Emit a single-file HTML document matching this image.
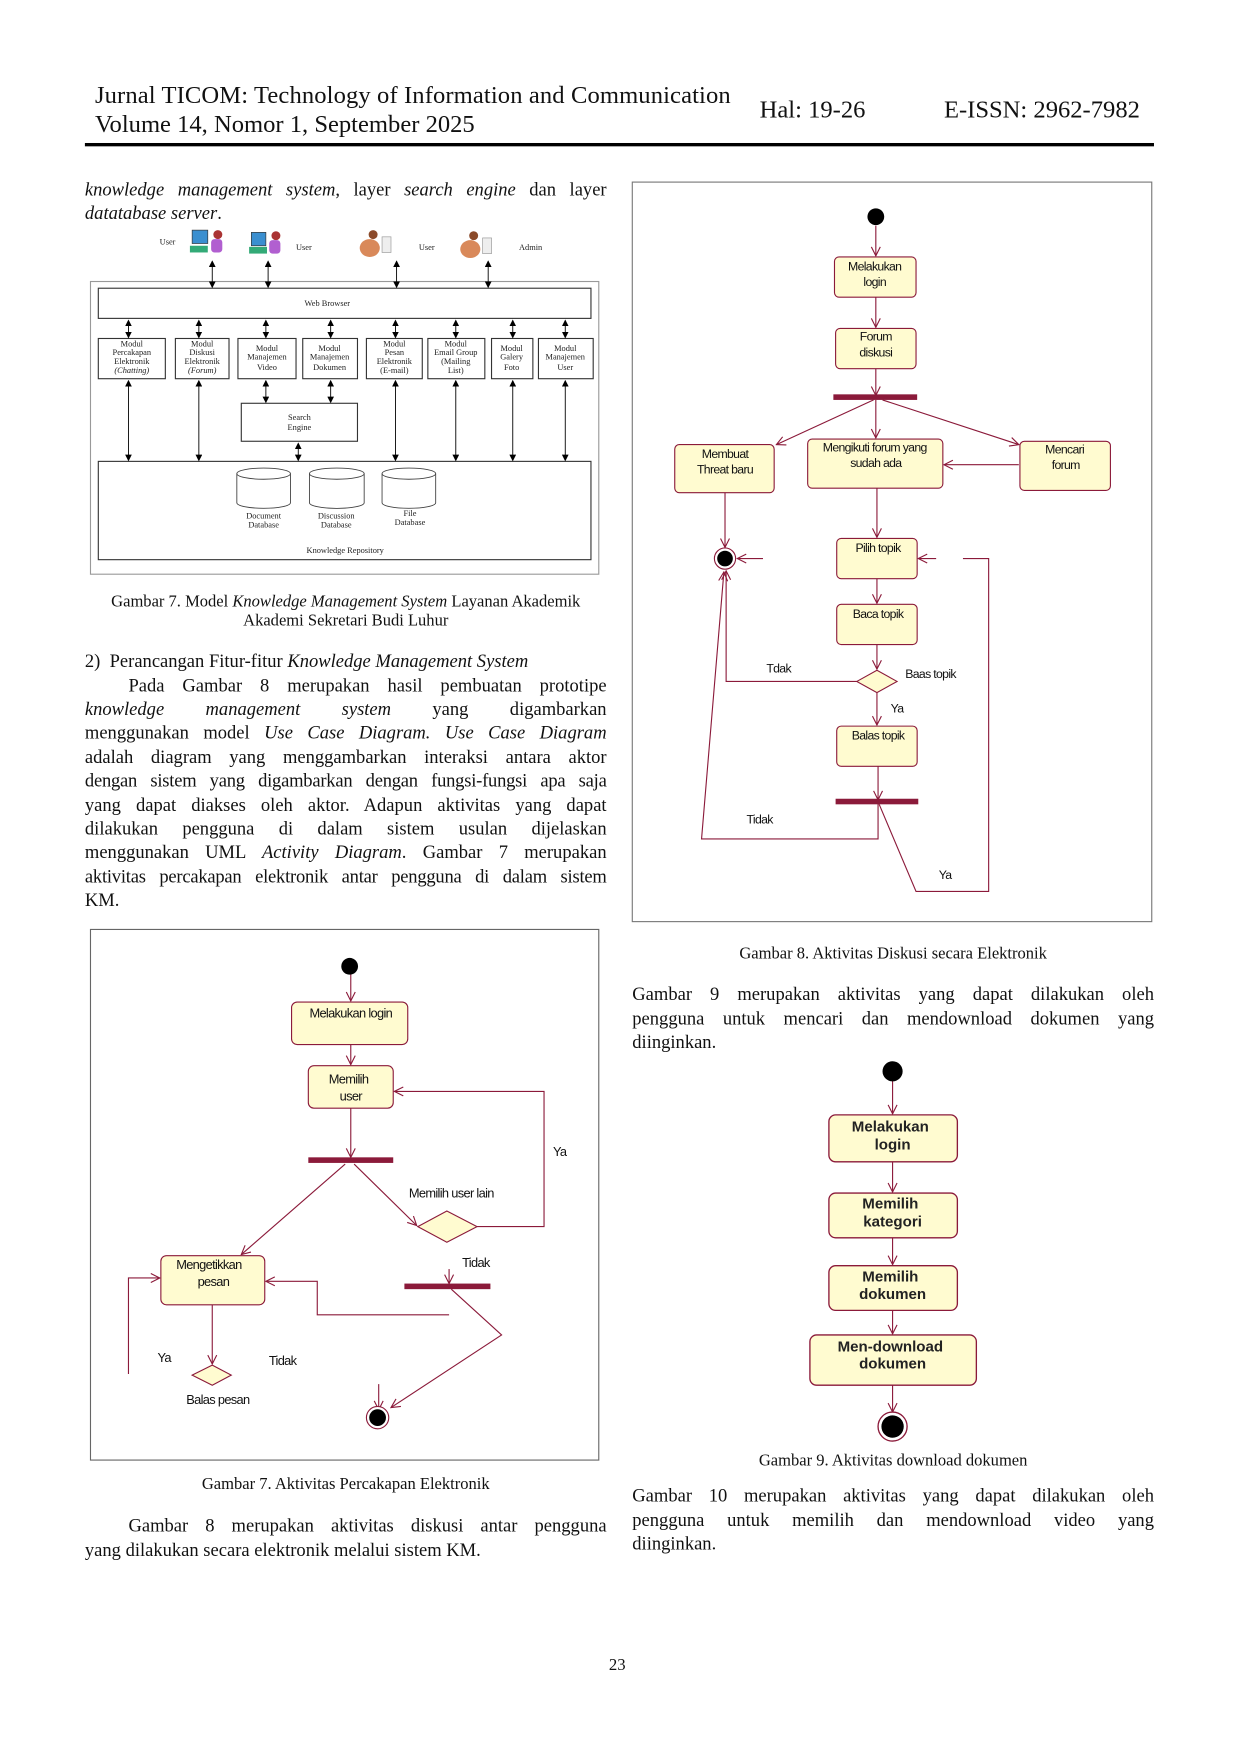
<!DOCTYPE html>
<html><head><meta charset="utf-8"><style>
html,body{margin:0;padding:0;background:#fff;}
#pg{position:absolute;left:0;top:0;width:1110px;height:1570px;transform:scale(1.11712);transform-origin:0 0;font-family:"Liberation Serif",serif;color:#111;}
.t{position:absolute;white-space:nowrap;line-height:22px;}
.j{position:absolute;left:76px;width:467px;font-size:16.6px;line-height:22px;text-align:justify;text-align-last:justify;white-space:normal;}
.jr{left:566px;width:467px;}
.cap{position:absolute;font-size:14.8px;text-align:center;line-height:17px;}
svg{position:absolute;left:0;top:0;}
</style></head><body><div id="pg">
<div class="t" style="left:85px;top:74px;font-size:22px;letter-spacing:0.1px">Jurnal TICOM: Technology of Information and Communication</div>
<div class="t" style="left:85px;top:100px;font-size:22px;">Volume 14, Nomor 1, September 2025</div>
<div class="t" style="left:680px;top:87px;font-size:22px;">Hal: 19-26</div>
<div class="t" style="left:845px;top:87px;font-size:22px;">E-ISSN: 2962-7982</div>
<div style="position:absolute;left:76px;top:128px;width:957px;height:3px;background:#000"></div>

<div class="j" style="top:159px"><i>knowledge management system</i>, layer <i>search engine</i> dan layer</div>
<div class="t" style="left:76px;top:180px;font-size:16.6px;"><i>datatabase server</i>.</div>

<div class="cap" style="left:76px;width:467px;top:531px">Gambar 7. Model <i>Knowledge Management System</i> Layanan Akademik<br>Akademi Sekretari Budi Luhur</div>

<div class="t" style="left:76px;top:581px;font-size:16.6px;">2)&nbsp;&nbsp;Perancangan Fitur-fitur <i>Knowledge Management System</i></div>
<div class="j" style="top:603px;left:115px;width:428px">Pada Gambar 8 merupakan hasil pembuatan prototipe</div>
<div class="j" style="top:624px"><i>knowledge management system</i> yang digambarkan</div>
<div class="j" style="top:645px">menggunakan model <i>Use Case Diagram. Use Case Diagram</i></div>
<div class="j" style="top:667px">adalah diagram yang menggambarkan interaksi antara aktor</div>
<div class="j" style="top:688px;letter-spacing:-0.2px">dengan sistem yang digambarkan dengan fungsi-fungsi apa saja</div>
<div class="j" style="top:710px">yang dapat diakses oleh aktor. Adapun aktivitas yang dapat</div>
<div class="j" style="top:731px">dilakukan pengguna di dalam sistem usulan dijelaskan</div>
<div class="j" style="top:752px">menggunakan UML <i>Activity Diagram</i>. Gambar 7 merupakan</div>
<div class="j" style="top:774px;letter-spacing:-0.2px">aktivitas percakapan elektronik antar pengguna di dalam sistem</div>
<div class="t" style="left:76px;top:795px;font-size:16.6px;">KM.</div>

<div class="cap" style="left:76px;width:467px;top:1321px">Gambar 7. Aktivitas Percakapan Elektronik</div>
<div class="j" style="top:1355px;left:115px;width:428px">Gambar 8 merupakan aktivitas diskusi antar pengguna</div>
<div class="t" style="left:76px;top:1377px;font-size:16.6px;">yang dilakukan secara elektronik melalui sistem KM.</div>

<div class="cap" style="left:566px;width:467px;top:846px">Gambar 8. Aktivitas Diskusi secara Elektronik</div>
<div class="j jr" style="top:879px">Gambar 9 merupakan aktivitas yang dapat dilakukan oleh</div>
<div class="j jr" style="top:901px">pengguna untuk mencari dan mendownload dokumen yang</div>
<div class="t" style="left:566px;top:922px;font-size:16.6px;">diinginkan.</div>
<div class="cap" style="left:566px;width:467px;top:1300px">Gambar 9. Aktivitas download dokumen</div>
<div class="j jr" style="top:1328px">Gambar 10 merupakan aktivitas yang dapat dilakukan oleh</div>
<div class="j jr" style="top:1350px">pengguna untuk memilih dan mendownload video yang</div>
<div class="t" style="left:566px;top:1371px;font-size:16.6px;">diinginkan.</div>
<div class="t" style="left:545px;top:1480px;font-size:15px;">23</div>

<svg width="1110" height="1570" viewBox="0 0 1110 1570" font-family="Liberation Sans, sans-serif">
<defs>
<marker id="a" markerWidth="10" markerHeight="10" refX="9" refY="5" orient="auto" markerUnits="userSpaceOnUse"><path d="M1,1 L9,5 L1,9" fill="none" stroke="#8b1a3a" stroke-width="1"/></marker>
<marker id="k" markerWidth="6" markerHeight="6" refX="5" refY="3" orient="auto" markerUnits="userSpaceOnUse"><path d="M0,0 L6,3 L0,6z" fill="#000"/></marker>
<marker id="ks" markerWidth="6" markerHeight="6" refX="1" refY="3" orient="auto" markerUnits="userSpaceOnUse"><path d="M6,0 L0,3 L6,6z" fill="#000"/></marker>
</defs>

<g stroke="#333" fill="none" stroke-width="1">
<rect x="81" y="252" width="455" height="262" stroke="#999"/>
<rect x="88" y="258" width="441" height="27"/>
<rect x="88" y="303" width="60" height="36"/><rect x="157" y="303" width="48" height="36"/>
<rect x="213" y="303" width="52" height="36"/><rect x="271" y="303" width="49" height="36"/>
<rect x="328" y="303" width="50" height="36"/><rect x="383" y="303" width="51" height="36"/>
<rect x="440" y="303" width="37" height="36"/><rect x="482" y="303" width="49" height="36"/>
<rect x="216" y="361" width="104" height="34"/>
<rect x="88" y="413" width="441" height="88"/>
</g>
<g stroke="#000" stroke-width="0.8" marker-end="url(#k)" marker-start="url(#ks)">
<line x1="190" y1="234" x2="190" y2="257"/><line x1="240" y1="234" x2="240" y2="257"/>
<line x1="355" y1="234" x2="355" y2="257"/><line x1="437" y1="234" x2="437" y2="257"/>
<line x1="115" y1="287" x2="115" y2="302"/><line x1="178" y1="287" x2="178" y2="302"/>
<line x1="238" y1="287" x2="238" y2="302"/><line x1="296" y1="287" x2="296" y2="302"/>
<line x1="354" y1="287" x2="354" y2="302"/><line x1="408" y1="287" x2="408" y2="302"/>
<line x1="459" y1="287" x2="459" y2="302"/><line x1="506" y1="287" x2="506" y2="302"/>
<line x1="115" y1="341" x2="115" y2="412"/><line x1="178" y1="341" x2="178" y2="412"/>
<line x1="354" y1="341" x2="354" y2="412"/><line x1="408" y1="341" x2="408" y2="412"/>
<line x1="459" y1="341" x2="459" y2="412"/><line x1="506" y1="341" x2="506" y2="412"/>
<line x1="238" y1="341" x2="238" y2="360"/><line x1="296" y1="341" x2="296" y2="360"/>
<line x1="267" y1="397" x2="267" y2="412"/>
</g>
<g fill="#fff" stroke="#444" stroke-width="0.8">
<path d="M212,424 v26 a24,5 0 0 0 48,0 v-26"/><ellipse cx="236" cy="424" rx="24" ry="5"/>
<path d="M277,424 v26 a24,5 0 0 0 49,0 v-26"/><ellipse cx="301.5" cy="424" rx="24.5" ry="5"/>
<path d="M342,424 v26 a24,5 0 0 0 48,0 v-26"/><ellipse cx="366" cy="424" rx="24" ry="5"/>
</g>
<g font-family="Liberation Serif, serif" font-size="7.5" fill="#222" text-anchor="middle">
<text x="150" y="219">User</text><text x="272" y="224">User</text><text x="382" y="224">User</text><text x="475" y="224">Admin</text>
<text x="293" y="274">Web Browser</text>
<text x="118" y="310">Modul</text><text x="118" y="318">Percakapan</text><text x="118" y="326">Elektronik</text><text x="118" y="334" font-style="italic">(Chatting)</text>
<text x="181" y="310">Modul</text><text x="181" y="318">Diskusi</text><text x="181" y="326">Elektronik</text><text x="181" y="334" font-style="italic">(Forum)</text>
<text x="239" y="314">Modul</text><text x="239" y="322">Manajemen</text><text x="239" y="331">Video</text>
<text x="295" y="314">Modul</text><text x="295" y="322">Manajemen</text><text x="295" y="331">Dokumen</text>
<text x="353" y="310">Modul</text><text x="353" y="318">Pesan</text><text x="353" y="326">Elektronik</text><text x="353" y="334">(E-mail)</text>
<text x="408" y="310">Modul</text><text x="408" y="318">Email Group</text><text x="408" y="326">(Mailing</text><text x="408" y="334">List)</text>
<text x="458" y="314">Modul</text><text x="458" y="322">Galery</text><text x="458" y="331">Foto</text>
<text x="506" y="314">Modul</text><text x="506" y="322">Manajemen</text><text x="506" y="331">User</text>
<text x="268" y="376">Search</text><text x="268" y="385">Engine</text>
<text x="236" y="464">Document</text><text x="236" y="472">Database</text>
<text x="301" y="464">Discussion</text><text x="301" y="472">Database</text>
<text x="367" y="462">File</text><text x="367" y="470">Database</text>
<text x="309" y="495">Knowledge Repository</text>
</g>
<g>
<rect x="172" y="206" width="14" height="12" fill="#3a8fd0" stroke="#333" stroke-width="0.6"/><circle cx="195" cy="210" r="4" fill="#a33"/><rect x="189" y="214" width="10" height="12" rx="3" fill="#b15fd0"/><rect x="170" y="220" width="16" height="6" fill="#3a7"/>
<rect x="225" y="208" width="13" height="12" fill="#3a8fd0" stroke="#333" stroke-width="0.6"/><circle cx="247" cy="211" r="4" fill="#a33"/><rect x="241" y="215" width="10" height="12" rx="3" fill="#b15fd0"/><rect x="223" y="221" width="16" height="6" fill="#3a7"/>
<circle cx="334" cy="210" r="4" fill="#8b4a2a"/><ellipse cx="331" cy="222" rx="9" ry="8" fill="#d9895a"/><rect x="342" y="212" width="8" height="14" fill="#eee" stroke="#999" stroke-width="0.6"/>
<circle cx="424" cy="211" r="4" fill="#8b4a2a"/><ellipse cx="421" cy="223" rx="9" ry="8" fill="#d9895a"/><rect x="432" y="213" width="8" height="14" fill="#eee" stroke="#999" stroke-width="0.6"/>
</g>

<rect x="566" y="163" width="465" height="662" fill="none" stroke="#777" stroke-width="1"/>
<g fill="#fffbd0" stroke="#8b1a3a" stroke-width="1">
<rect x="747" y="230" width="73" height="36" rx="4"/>
<rect x="748" y="294" width="72" height="36" rx="4"/>
<rect x="604" y="398" width="89" height="43" rx="4"/>
<rect x="723" y="393" width="121" height="44" rx="4"/>
<rect x="913" y="395" width="81" height="44" rx="4"/>
<rect x="749" y="482" width="72" height="36" rx="4"/>
<rect x="749" y="541" width="72" height="36" rx="4"/>
<path d="M767,610 L785,600 L803,610 L785,620z"/>
<rect x="749" y="650" width="72" height="36" rx="4"/>
</g>
<g stroke="#8b1a3a" stroke-width="1" fill="none">
<line x1="784" y1="202" x2="784" y2="229" marker-end="url(#a)"/>
<line x1="784" y1="266" x2="784" y2="293" marker-end="url(#a)"/>
<line x1="784" y1="330" x2="784" y2="354" marker-end="url(#a)"/>
<line x1="782" y1="358" x2="695" y2="398" marker-end="url(#a)"/>
<line x1="784" y1="358" x2="784" y2="392" marker-end="url(#a)"/>
<line x1="790" y1="358" x2="912" y2="398" marker-end="url(#a)"/>
<line x1="912" y1="416" x2="845" y2="416" marker-end="url(#a)"/>
<line x1="649" y1="441" x2="649" y2="490" marker-end="url(#a)"/>
<line x1="683" y1="500" x2="660" y2="500" marker-end="url(#a)"/>
<line x1="785" y1="437" x2="785" y2="481" marker-end="url(#a)"/>
<line x1="785" y1="518" x2="785" y2="540" marker-end="url(#a)"/>
<line x1="785" y1="577" x2="785" y2="599" marker-end="url(#a)"/>
<polyline points="767,610 650,610 650,511" marker-end="url(#a)"/>
<line x1="785" y1="620" x2="785" y2="649" marker-end="url(#a)"/>
<line x1="786" y1="686" x2="786" y2="716" marker-end="url(#a)"/>
<polyline points="786,718 786,751 628,751 648,512" marker-end="url(#a)"/>
<polyline points="787,720 820,798 885,798 885,500 862,500"/>
<line x1="838" y1="500" x2="822" y2="500" marker-end="url(#a)"/>
</g>
<circle cx="784" cy="194" r="7.5" fill="#000"/>
<circle cx="649" cy="500" r="9.5" fill="#fff" stroke="#8b1a3a"/><circle cx="649" cy="500" r="7" fill="#000"/>
<rect x="746" y="353" width="75" height="5" fill="#8b1a3a"/>
<rect x="748" y="715" width="74" height="5" fill="#8b1a3a"/>
<g font-size="11" fill="#111" text-anchor="middle" letter-spacing="-0.6">
<text x="783" y="242">Melakukan</text><text x="783" y="256">login</text>
<text x="784" y="305">Forum</text><text x="784" y="319">diskusi</text>
<text x="649" y="410">Membuat</text><text x="649" y="424">Threat baru</text>
<text x="783" y="404">Mengikuti forum yang</text><text x="784" y="418">sudah ada</text>
<text x="953" y="406">Mencari</text><text x="954" y="420">forum</text>
<text x="786" y="494">Pilih topik</text>
<text x="786" y="553">Baca topik</text>
<text x="697" y="602">Tdak</text><text x="833" y="607">Baas topik</text>
<text x="803" y="638">Ya</text>
<text x="786" y="662">Balas topik</text>
<text x="680" y="737">Tidak</text><text x="846" y="787">Ya</text>
</g>

<rect x="81" y="832" width="455" height="475" fill="none" stroke="#666" stroke-width="1"/>
<g fill="#fffbd0" stroke="#8b1a3a" stroke-width="1">
<rect x="261" y="897" width="104" height="38" rx="5"/>
<rect x="276" y="954" width="76" height="38" rx="5"/>
<path d="M374,1098 L400,1084 L427,1098 L400,1112z"/>
<rect x="144" y="1124" width="93" height="44" rx="5"/>
<path d="M172,1231 L190,1222 L207,1231 L190,1240z"/>
</g>
<g stroke="#8b1a3a" stroke-width="1" fill="none">
<line x1="314" y1="872" x2="314" y2="896" marker-end="url(#a)"/>
<line x1="314" y1="935" x2="314" y2="953" marker-end="url(#a)"/>
<line x1="314" y1="992" x2="314" y2="1036" marker-end="url(#a)"/>
<line x1="309" y1="1042" x2="216" y2="1123" marker-end="url(#a)"/>
<line x1="317" y1="1042" x2="373" y2="1097" marker-end="url(#a)"/>
<polyline points="427,1098 487,1098 487,977 353,977" marker-end="url(#a)"/>
<line x1="402" y1="1136" x2="402" y2="1149" marker-end="url(#a)"/>
<polyline points="402,1177 284,1177 284,1147 238,1147" marker-end="url(#a)"/>
<polyline points="404,1154 449,1195 350,1260" marker-end="url(#a)"/>
<line x1="339" y1="1239" x2="339" y2="1262" marker-end="url(#a)"/>
<line x1="190" y1="1168" x2="190" y2="1221" marker-end="url(#a)"/>
<polyline points="115,1230 115,1144 143,1144" marker-end="url(#a)"/>
</g>
<circle cx="313" cy="865" r="7.5" fill="#000"/>
<rect x="276" y="1036" width="76" height="5" fill="#8b1a3a"/>
<rect x="362" y="1149" width="77" height="5" fill="#8b1a3a"/>
<circle cx="338" cy="1269" r="10" fill="#fff" stroke="#8b1a3a"/><circle cx="338" cy="1269" r="7.5" fill="#000"/>
<g font-size="11.5" fill="#111" text-anchor="middle" letter-spacing="-0.6">
<text x="314" y="911">Melakukan login</text>
<text x="312" y="970">Memilih</text><text x="314" y="985">user</text>
<text x="404" y="1072">Memilih user lain</text>
<text x="501" y="1035">Ya</text>
<text x="426" y="1134">Tidak</text>
<text x="187" y="1136">Mengetikkan</text><text x="191" y="1151">pesan</text>
<text x="147" y="1219">Ya</text><text x="253" y="1222">Tidak</text>
<text x="195" y="1257">Balas pesan</text>
</g>

<g fill="#fffbd0" stroke="#8b1a3a" stroke-width="1.2">
<rect x="742" y="998" width="115" height="42" rx="6"/>
<rect x="742" y="1068" width="115" height="40" rx="6"/>
<rect x="742" y="1133" width="115" height="40" rx="6"/>
<rect x="725" y="1195" width="149" height="45" rx="6"/>
</g>
<g stroke="#8b1a3a" stroke-width="1" fill="none">
<line x1="799" y1="967" x2="799" y2="997" marker-end="url(#a)"/>
<line x1="799" y1="1040" x2="799" y2="1067" marker-end="url(#a)"/>
<line x1="799" y1="1108" x2="799" y2="1132" marker-end="url(#a)"/>
<line x1="799" y1="1173" x2="799" y2="1194" marker-end="url(#a)"/>
<line x1="799" y1="1240" x2="799" y2="1264" marker-end="url(#a)"/>
</g>
<circle cx="799" cy="959" r="9" fill="#000"/>
<circle cx="799" cy="1277" r="13" fill="#fff" stroke="#8b1a3a" stroke-width="1.2"/><circle cx="799" cy="1277" r="10" fill="#000"/>
<g font-size="13.5" font-weight="bold" fill="#222" text-anchor="middle">
<text x="797" y="1013">Melakukan</text><text x="799" y="1029">login</text>
<text x="797" y="1082">Memilih</text><text x="799" y="1098">kategori</text>
<text x="797" y="1147">Memilih</text><text x="799" y="1163">dokumen</text>
<text x="797" y="1210">Men-download</text><text x="799" y="1225">dokumen</text>
</g>
</svg>
</div></body></html>
